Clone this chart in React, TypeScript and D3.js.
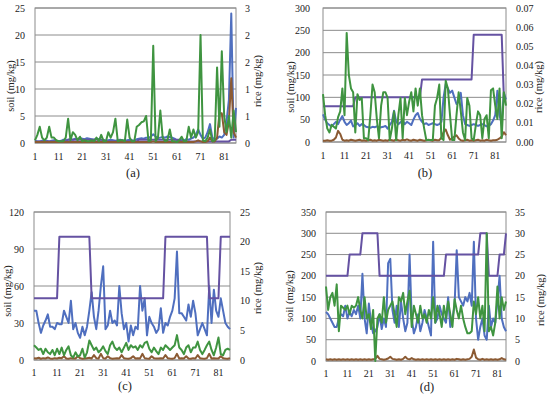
import React from "react";
import * as d3 from "d3";

const X_TICKS = [1, 11, 21, 31, 41, 51, 61, 71, 81];
const PANEL_LABELS = ["(a)", "(b)", "(c)", "(d)"];

// ---------- Panel (a) ----------
const A_SOIL = [
  0.4, 0.3, 0.3, 0.4, 0.5, 0.4, 0.3, 0.4, 0.5, 0.4,
  0.3, 0.4, 0.6, 0.5, 0.6, 0.7, 0.6, 0.8, 0.7, 0.9,
  0.8, 0.7, 0.9, 0.8, 0.7, 0.6, 0.8, 0.7, 0.6, 0.5,
  0.4, 0.5, 0.6, 0.5, 0.4, 0.5, 0.6, 0.5, 0.4, 0.5,
  0.6, 0.5, 0.4, 0.7, 0.8, 0.9, 0.8, 1.0, 0.9, 1.2,
  1.6, 1.2, 0.9, 1.0, 1.1, 1.0, 1.2, 1.1, 1.0, 0.8,
  0.5, 0.4, 0.6, 0.5, 0.7, 0.6, 0.8, 1.0, 1.5, 2.5,
  1.5, 0.8, 1.0, 2.0, 3.5, 1.0, 0.6, 0.8, 1.2, 1.0,
  1.5, 4.0, 8.0, 24.0, 1.0, 6.5,
];
const A_STD = [
  0.3, 0.3, 0.3, 0.3, 0.3, 0.3, 0.3, 0.3, 0.3, 0.3,
  0.3, 0.3, 0.3, 0.3, 0.6, 0.6, 0.6, 0.6, 0.6, 0.6,
  0.6, 0.6, 0.6, 0.6, 0.6, 0.6, 0.6, 0.6, 0.6, 0.6,
  0.3, 0.3, 0.3, 0.3, 0.3, 0.3, 0.3, 0.3, 0.3, 0.3,
  0.3, 0.3, 0.3, 0.3, 0.6, 0.6, 0.6, 0.6, 0.6, 0.6,
  0.6, 0.6, 0.6, 0.6, 0.6, 0.6, 0.6, 0.6, 0.6, 0.6,
  0.6, 0.6, 0.3, 0.3, 0.3, 0.3, 0.3, 0.3, 0.3, 0.3,
  0.3, 0.3, 0.3, 0.3, 0.3, 0.3, 0.3, 0.3, 0.3, 0.3,
  0.3, 0.3, 0.3, 0.6, 0.6, 0.6,
];
const A_RICE = [
  0.06, 0.18, 0.36, 0.12, 0.06, 0.12, 0.36, 0.12, 0.12, 0.06,
  0.04, 0.04, 0.04, 0.12, 0.54, 0.06, 0.24, 0.18, 0.06, 0.14,
  0.04, 0.06, 0.04, 0.04, 0.06, 0.04, 0.12, 0.04, 0.18, 0.04,
  0.04, 0.24, 0.12, 0.24, 0.54, 0.04, 0.06, 0.06, 0.04, 0.52,
  0.12, 0.04, 0.04, 0.36, 0.40, 0.46, 0.48, 0.60, 0.04, 0.06,
  2.16, 0.04, 0.12, 0.72, 0.12, 0.04, 0.06, 0.30, 0.04, 0.04,
  0.02, 0.06, 0.14, 0.04, 0.04, 0.36, 0.12, 0.30, 0.12, 0.24,
  2.40, 0.06, 0.04, 0.12, 0.30, 0.04, 0.06, 1.68, 0.36, 2.04,
  0.60, 0.24, 0.60, 0.12, 0.72, 0.24,
];
const A_OTHER = [
  0.2, 0.2, 0.2, 0.2, 0.2, 0.2, 0.2, 0.2, 0.2, 0.2,
  0.2, 0.2, 0.2, 0.2, 0.2, 0.2, 0.2, 0.2, 0.2, 0.2,
  0.2, 0.2, 0.2, 0.2, 0.2, 0.2, 0.2, 0.2, 0.2, 0.2,
  0.2, 0.2, 0.2, 0.2, 0.2, 0.2, 0.2, 0.2, 0.2, 0.2,
  0.2, 0.2, 0.2, 0.2, 0.2, 0.2, 0.2, 0.2, 0.2, 0.2,
  0.3, 0.2, 0.2, 0.2, 0.2, 0.2, 0.2, 0.2, 0.2, 0.2,
  0.2, 0.2, 0.2, 0.2, 0.2, 0.2, 0.2, 0.2, 0.3, 0.5,
  0.3, 0.2, 0.2, 0.3, 1.0, 0.3, 0.3, 1.0, 5.5, 5.5,
  2.0, 1.5, 4.0, 12.0, 2.0, 1.0,
];

// ---------- Panel (b) ----------
const B_SOIL = [
  62, 50, 42, 38, 35, 40, 45, 40, 50, 58,
  45, 38, 42, 48, 35, 38, 42, 36, 40, 38,
  34, 33, 32, 34, 33, 35, 32, 33, 34, 36,
  30, 38, 45, 70, 45, 40, 44, 48, 40, 45,
  42, 38, 50, 60, 65, 52, 45, 40, 42, 38,
  40, 42, 40, 38, 40, 45, 100, 130, 120, 110,
  115, 100, 85, 90, 110, 60, 40, 38, 36, 38,
  40, 38, 36, 38, 40, 38, 35, 36, 40, 48,
  60, 115, 60, 40, 110, 95,
];
const B_STD = [
  80, 80, 80, 80, 80, 80, 80, 80, 80, 80,
  80, 80, 80, 80, 80, 100, 100, 100, 100, 100,
  100, 100, 100, 100, 100, 100, 100, 100, 100, 100,
  100, 100, 100, 100, 100, 100, 100, 100, 100, 100,
  100, 100, 100, 100, 100, 100, 140, 140, 140, 140,
  140, 140, 140, 140, 140, 140, 140, 140, 140, 140,
  140, 140, 140, 140, 140, 140, 140, 140, 140, 140,
  240, 240, 240, 240, 240, 240, 240, 240, 240, 240,
  240, 240, 240, 240, 100, 100,
];
const B_RICE = [
  0.025, 0.014, 0.007, 0.005, 0.009, 0.008, 0.007, 0.013, 0.016, 0.028,
  0.014, 0.057, 0.035, 0.028, 0.026, 0.005, 0.025, 0.022, 0.023, 0.002,
  0.002, 0.001, 0.014, 0.030, 0.026, 0.012, 0.002, 0.019, 0.026, 0.026,
  0.023, 0.001, 0.007, 0.016, 0.001, 0.014, 0.023, 0.002, 0.023, 0.014,
  0.021, 0.026, 0.016, 0.028, 0.019, 0.028, 0.014, 0.007, 0.001, 0.001,
  0.001, 0.001, 0.019, 0.023, 0.030, 0.002, 0.001, 0.032, 0.028, 0.014,
  0.001, 0.001, 0.014, 0.026, 0.016, 0.005, 0.001, 0.023, 0.019, 0.002,
  0.001, 0.009, 0.016, 0.014, 0.002, 0.012, 0.014, 0.002, 0.027, 0.028,
  0.019, 0.012, 0.028, 0.002, 0.026, 0.019,
];
const B_OTHER = [
  3, 3, 4, 3, 3, 5, 10, 25, 18, 5,
  3, 4, 3, 5, 4, 3, 4, 5, 3, 4,
  3, 4, 5, 3, 4, 3, 5, 4, 3, 4,
  3, 5, 4, 3, 6, 4, 3, 5, 4, 6,
  4, 3, 5, 4, 3, 5, 4, 3, 4, 5,
  4, 3, 5, 4, 4, 10, 22, 28, 15, 5,
  8, 12, 15, 8, 4, 3, 4, 5, 3, 4,
  3, 4, 5, 3, 4, 3, 5, 4, 3, 4,
  4, 5, 8, 12, 22, 15,
];

// ---------- Panel (c) ----------
const C_SOIL = [
  40, 40, 30, 22, 28, 32, 37, 27, 27, 25,
  30, 29, 29, 40, 35, 30, 48, 25, 30, 22,
  18, 27, 20, 27, 40, 55, 35, 25, 40, 60,
  76, 25, 28, 40, 30, 32, 28, 60, 38, 25,
  30, 15, 28, 20, 27, 25, 60, 40, 50, 20,
  35, 30, 27, 22, 25, 42, 22, 30, 28, 35,
  40, 50, 88, 38, 38, 35, 32, 45, 35, 48,
  38, 20, 25, 30, 25, 20, 60, 30, 57, 40,
  35, 50, 40, 30, 27, 25,
];
const C_STD = [
  50, 50, 50, 50, 50, 50, 50, 50, 50, 50,
  50, 100, 100, 100, 100, 100, 100, 100, 100, 100,
  100, 100, 100, 100, 100, 50, 50, 50, 50, 50,
  50, 50, 50, 50, 50, 50, 50, 50, 50, 50,
  50, 50, 50, 50, 50, 50, 50, 50, 50, 50,
  50, 50, 50, 50, 50, 50, 50, 100, 100, 100,
  100, 100, 100, 100, 100, 100, 100, 100, 100, 100,
  100, 100, 100, 100, 100, 100, 50, 50, 50, 50,
  50, 100, 100, 100, 100, 100,
];
const C_RICE = [
  2.5, 2.1, 1.7, 1.9, 1.0, 1.9, 1.3, 1.0, 1.7, 0.8,
  1.9, 1.0, 2.1, 0.8, 1.7, 2.3, 0.8, 0.4, 1.3, 0.6,
  0.8, 1.9, 0.4, 1.3, 3.3, 2.5, 1.7, 2.1, 1.3, 1.7,
  2.3, 1.5, 1.0, 2.5, 3.1, 2.1, 1.7, 2.1, 1.3, 2.1,
  2.9, 1.7, 2.5, 2.1, 2.3, 1.7, 2.5, 2.1, 2.9, 3.1,
  1.9, 1.3, 2.1, 1.5, 1.0, 2.1, 1.7, 2.5, 2.1, 1.7,
  2.1, 2.5, 4.2, 2.1, 1.7, 1.0, 2.1, 2.5, 1.3, 2.1,
  2.1, 3.1, 1.7, 1.0, 1.7, 2.5, 3.1, 1.7, 0.8, 2.1,
  3.8, 1.0, 0.8, 1.7, 1.9, 1.7,
];
const C_OTHER = [
  1.5, 1.2, 1.8, 1.0, 1.5, 1.2, 2.0, 1.3, 1.0, 1.5,
  1.2, 1.8, 1.5, 3.0, 1.2, 1.0, 1.5, 1.3, 1.2, 3.0,
  1.5, 1.0, 1.2, 1.5, 1.8, 1.2, 4.0, 1.5, 1.2, 5.0,
  1.5, 1.2, 3.0, 1.5, 1.0, 1.3, 1.5, 1.2, 4.0, 1.5,
  1.2, 1.0, 1.5, 3.0, 1.2, 1.5, 1.3, 5.0, 1.5, 1.2,
  1.0, 3.0, 1.5, 1.2, 1.3, 1.5, 1.2, 4.0, 1.5, 1.2,
  1.0, 1.5, 5.0, 1.2, 1.5, 1.3, 3.0, 1.2, 1.0, 1.5,
  1.2, 4.0, 1.5, 1.2, 1.0, 1.5, 5.0, 1.2, 1.5, 1.3,
  1.2, 3.0, 1.5, 1.2, 1.0, 1.5,
];

// ---------- Panel (d) ----------
const D_SOIL = [
  115, 110, 100, 90, 80, 80, 100, 110, 105, 130,
  100, 115, 105, 120, 110, 130, 100, 205, 100, 65,
  135, 90, 65, 70, 80, 110, 75, 100, 80, 230,
  240, 120, 90, 130, 80, 140, 100, 70, 90, 250,
  100, 65, 80, 110, 70, 90, 120, 100, 80, 60,
  280, 90, 100, 130, 110, 100, 90, 150, 80, 100,
  130, 260, 150, 140, 130, 150, 140, 160, 130, 280,
  100, 50, 80, 100, 60, 50, 130, 80, 100, 90,
  140, 200, 100, 80, 70,
];
const D_STD = [
  200, 200, 200, 200, 200, 200, 200, 200, 200, 200,
  200, 250, 250, 250, 250, 250, 250, 300, 300, 300,
  300, 300, 300, 300, 300, 200, 200, 200, 200, 200,
  200, 200, 200, 200, 200, 200, 200, 200, 200, 200,
  200, 200, 200, 200, 200, 200, 200, 200, 200, 200,
  200, 200, 200, 200, 200, 200, 250, 250, 250, 250,
  250, 250, 250, 250, 250, 250, 250, 250, 250, 250,
  250, 250, 300, 300, 300, 300, 200, 200, 200, 200,
  200, 250, 250, 250, 300,
];
const D_RICE = [
  17.5, 12.0, 15.0, 16.0, 13.0, 18.0, 7.0, 13.0, 12.5, 12.0,
  13.0, 11.0, 13.0, 12.5, 13.0, 15.0, 12.0, 10.0, 15.0, 10.0,
  11.0, 7.5, 12.0, 0.0, 10.0, 11.0, 9.0, 15.0, 9.0, 12.0,
  13.0, 14.0, 11.0, 8.0, 15.0, 14.0, 16.0, 11.0, 14.0, 16.5,
  8.0, 13.0, 11.0, 9.0, 13.0, 10.0, 11.0, 9.0, 12.0, 10.0,
  15.0, 9.0, 13.0, 11.0, 8.0, 13.0, 10.0, 14.0, 11.0, 8.0,
  14.5, 12.0, 10.0, 13.0, 10.0, 8.0, 6.5, 6.5, 7.0, 14.0,
  11.0, 15.0, 10.0, 13.0, 7.0, 30.0, 7.0, 8.0, 6.0, 9.0,
  17.5, 10.0, 15.0, 12.0, 14.0,
];
const D_OTHER = [
  4, 3, 4, 3, 4, 3, 4, 3, 4, 3,
  4, 3, 4, 3, 4, 3, 4, 3, 4, 3,
  4, 3, 4, 5, 12, 5, 4, 3, 4, 6,
  10, 5, 4, 3, 4, 3, 5, 10, 5, 4,
  7, 4, 3, 4, 3, 4, 3, 4, 3, 4,
  3, 4, 3, 4, 3, 4, 3, 4, 3, 4,
  3, 5, 4, 3, 4, 3, 4, 5, 10, 27,
  8, 4, 3, 5, 3, 4, 3, 4, 3, 4,
  3, 4, 7, 4, 3,
];

// ---------- Axis ticks ----------
const A_LEFT_TICKS = [0, 5, 10, 15, 20, 25];
const A_RIGHT_TICKS = [0, 0.6, 1.2, 1.8, 2.4, 3];
const B_LEFT_TICKS = [0, 50, 100, 150, 200, 250, 300];
const B_RIGHT_TICKS = [0, 0.01, 0.02, 0.03, 0.04, 0.05, 0.06, 0.07];
const C_LEFT_TICKS = [0, 30, 60, 90, 120];
const C_RIGHT_TICKS = [0, 5, 10, 15, 20, 25];
const D_LEFT_TICKS = [0, 50, 100, 150, 200, 250, 300, 350];
const D_RIGHT_TICKS = [0, 5, 10, 15, 20, 25, 30, 35];

const COLORS = {
  soil: "#4f6fbf",
  std: "#6552a2",
  other: "#8b5a33",
  rice: "#3f9440",
};
const GRID = "#8c8c8c";
const FONT = "'Liberation Serif', 'Times New Roman', serif";

type PanelDef = {
  label: string;
  left: number;
  right: number;
  top: number;
  bottom: number;
  leftTicks: number[];
  rightTicks: number[];
  rightFmt: (v: number) => string;
  soil: number[];
  std: number[];
  rice: number[];
  other: number[];
  lx: number;
  rx: number;
  ltx: number;
  rtx: number;
  lty: number;
  rty: number;
  tickDy: number;
  labX: number;
  labY: number;
};

const PANELS: PanelDef[] = [
  {
    label: PANEL_LABELS[0], left: 35, right: 236, top: 8, bottom: 143,
    leftTicks: A_LEFT_TICKS, rightTicks: A_RIGHT_TICKS, rightFmt: d3.format(".0f"),
    soil: A_SOIL, std: A_STD, rice: A_RICE, other: A_OTHER,
    lx: 25, rx: 245, ltx: 10, rtx: 257, lty: 86, rty: 81, tickDy: 13, labX: 133, labY: 173,
  },
  {
    label: PANEL_LABELS[1], left: 323, right: 506, top: 8, bottom: 142,
    leftTicks: B_LEFT_TICKS, rightTicks: B_RIGHT_TICKS, rightFmt: d3.format(".2f"),
    soil: B_SOIL, std: B_STD, rice: B_RICE, other: B_OTHER,
    lx: 310, rx: 516, ltx: 290, rtx: 538, lty: 87, rty: 87, tickDy: 13, labX: 425, labY: 173,
  },
  {
    label: PANEL_LABELS[2], left: 34, right: 230, top: 212, bottom: 360,
    leftTicks: C_LEFT_TICKS, rightTicks: C_RIGHT_TICKS, rightFmt: d3.format(".0f"),
    soil: C_SOIL, std: C_STD, rice: C_RICE, other: C_OTHER,
    lx: 24, rx: 240, ltx: 7, rtx: 257, lty: 291, rty: 288, tickDy: 12, labX: 125, labY: 386,
  },
  {
    label: PANEL_LABELS[3], left: 326, right: 506, top: 212, bottom: 361,
    leftTicks: D_LEFT_TICKS, rightTicks: D_RIGHT_TICKS, rightFmt: d3.format(".0f"),
    soil: D_SOIL, std: D_STD, rice: D_RICE, other: D_OTHER,
    lx: 316, rx: 515, ltx: 289, rtx: 540, lty: 296, rty: 300, tickDy: 12, labX: 427, labY: 387,
  },
];

function Panel({ p }: { p: PanelDef }) {
  const n = p.soil.length;
  const x = d3.scaleLinear().domain([1, n]).range([p.left, p.right]);
  const yL = d3
    .scaleLinear()
    .domain([0, p.leftTicks[p.leftTicks.length - 1]])
    .range([p.bottom, p.top]);
  const yR = d3
    .scaleLinear()
    .domain([0, p.rightTicks[p.rightTicks.length - 1]])
    .range([p.bottom, p.top]);
  const lineL = d3
    .line<number>()
    .x((_, i) => x(i + 1))
    .y((d) => yL(d));
  const lineR = d3
    .line<number>()
    .x((_, i) => x(i + 1))
    .y((d) => yR(d));

  return (
    <g fontFamily={FONT} fill="#222">
      {p.leftTicks.map((t) => (
        <line key={"g" + t} x1={p.left} x2={p.right} y1={yL(t)} y2={yL(t)} stroke={GRID} strokeWidth={1} />
      ))}
      <rect x={p.left} y={p.top} width={p.right - p.left} height={p.bottom - p.top} fill="none" stroke={GRID} strokeWidth={1} />
      <defs>
        <clipPath id={"clip" + p.label}>
          <rect x={p.left} y={p.top - 2} width={p.right - p.left} height={p.bottom - p.top + 3} />
        </clipPath>
      </defs>
      <g clipPath={`url(#clip${p.label})`} fill="none" strokeWidth={2} strokeLinejoin="round">
        <path d={lineL(p.soil) || ""} stroke={COLORS.soil} />
        <path d={lineL(p.std) || ""} stroke={COLORS.std} />
        <path d={lineL(p.other) || ""} stroke={COLORS.other} />
        <path d={lineR(p.rice) || ""} stroke={COLORS.rice} />
      </g>
      {p.leftTicks.map((t) => (
        <text key={"l" + t} x={p.lx} y={yL(t)} dy="0.35em" textAnchor="end" fontSize={10}>
          {t}
        </text>
      ))}
      {p.rightTicks.map((t, i) => (
        <text key={"r" + i} x={p.rx} y={yR(t)} dy="0.35em" textAnchor="start" fontSize={10}>
          {p.rightFmt(t)}
        </text>
      ))}
      {X_TICKS.map((t) => (
        <text key={"x" + t} x={x(t)} y={p.bottom + p.tickDy} dy="0.35em" textAnchor="middle" fontSize={10}>
          {t}
        </text>
      ))}
      <text transform={`translate(${p.ltx},${p.lty}) rotate(-90)`} textAnchor="middle" dy="0.35em" fontSize={10.5}>
        soil (mg/kg)
      </text>
      <text transform={`translate(${p.rtx},${p.rty}) rotate(-90)`} textAnchor="middle" dy="0.35em" fontSize={10.5}>
        rice (mg/kg)
      </text>
      <text x={p.labX} y={p.labY} dy="0.35em" textAnchor="middle" fontSize={12.5}>
        {p.label}
      </text>
    </g>
  );
}

export default function App() {
  return (
    <svg width={550} height={394} style={{ position: "absolute", left: 0, top: 0, background: "#fff" }}>
      {PANELS.map((p) => (
        <Panel key={p.label} p={p} />
      ))}
    </svg>
  );
}
